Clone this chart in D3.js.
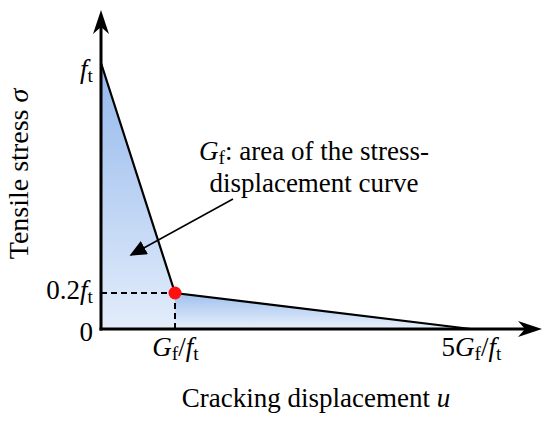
<!DOCTYPE html>
<html>
<head>
<meta charset="utf-8">
<script src="https://cdn.jsdelivr.net/npm/d3@7"></script>
<style>
  body { margin: 0; background: #fff; }
</style>
</head>
<body>
<div id="chart"></div>
<script>
// softening curve: displacement in units of Gf/ft, stress in units of ft
const displacement = [0, 1, 5];
const stress = [1, 0.2, 0];
const peakPoint = {u: 1, s: 0.2};

// tick labels (sub = subscript part)
const xTicks = [
  {v: 1, parts: [["G", "i"], ["f", "sub"], ["/", ""], ["f", "i"], ["t", "sub"]]},
  {v: 5, parts: [["5", ""], ["G", "i"], ["f", "sub"], ["/", ""], ["f", "i"], ["t", "sub"]]}
];
const yTicks = [
  {v: 0, parts: [["0", ""]]},
  {v: 0.2, parts: [["0.2", ""], ["f", "i"], ["t", "sub"]]},
  {v: 1, parts: [["f", "i"], ["t", "sub"]]}
];

const serif = '"Liberation Serif"';
const fs = 27;
const width = 550, height = 425;
const svg = d3.select("#chart").append("svg")
  .attr("width", width).attr("height", height);

// schematic: y is drawn piecewise (not to scale), x is linear
const xScale = d3.scaleLinear().domain([0, 5]).range([101, 471]);
const yScale = d3.scaleLinear().domain([0, 0.2, 1]).range([329, 293, 63]);

const defs = svg.append("defs");
function grad(id, top, bottom) {
  const g = defs.append("linearGradient").attr("id", id)
    .attr("x1", 0).attr("y1", 0).attr("x2", 0).attr("y2", 1);
  g.append("stop").attr("offset", "0%").attr("stop-color", top);
  g.append("stop").attr("offset", "100%").attr("stop-color", bottom);
}
grad("gLeft", "#94b8ec", "#e3edfb");
grad("gRight", "#9fc0ee", "#e8f0fb");

defs.append("marker").attr("id", "ann").attr("viewBox", "0 0 10 10")
  .attr("refX", 9).attr("refY", 5).attr("markerWidth", 17).attr("markerHeight", 15)
  .attr("markerUnits", "userSpaceOnUse").attr("orient", "auto")
  .attr("preserveAspectRatio", "none")
  .append("path").attr("d", "M0,0L10,5L0,10Z").attr("fill", "#000");

const pts = displacement.map((u, i) => ({u, s: stress[i]}));

// filled areas: left of Gf/ft and right of it
const area = d3.line().x(d => xScale(d.u)).y(d => yScale(d.s));
svg.append("path")
  .attr("d", area([{u: 0, s: 0}, pts[0], pts[1], {u: pts[1].u, s: 0}]) + "Z")
  .attr("fill", "url(#gLeft)");
svg.append("path")
  .attr("d", area([{u: pts[1].u, s: 0}, pts[1], pts[2]]) + "Z")
  .attr("fill", "url(#gRight)");

// dashed guide lines
svg.append("line")
  .attr("x1", xScale(0)).attr("x2", xScale(peakPoint.u))
  .attr("y1", yScale(peakPoint.s)).attr("y2", yScale(peakPoint.s))
  .attr("stroke", "#000").attr("stroke-width", 2).attr("stroke-dasharray", "6,4");
svg.append("line")
  .attr("x1", xScale(peakPoint.u)).attr("x2", xScale(peakPoint.u))
  .attr("y1", yScale(peakPoint.s)).attr("y2", yScale(0))
  .attr("stroke", "#000").attr("stroke-width", 2).attr("stroke-dasharray", "6,4");

// curve
svg.append("path").attr("d", area(pts))
  .attr("fill", "none").attr("stroke", "#000").attr("stroke-width", 2.2);

// axes with arrows
const x0 = xScale(0), y0 = yScale(0);
const yTop = 10, xRight = 542;
svg.append("line").attr("x1", x0).attr("y1", y0 + 1.5).attr("x2", x0).attr("y2", yTop + 12)
  .attr("stroke", "#000").attr("stroke-width", 3);
svg.append("line").attr("x1", x0 - 1.5).attr("y1", y0).attr("x2", xRight - 12).attr("y2", y0)
  .attr("stroke", "#000").attr("stroke-width", 3);
svg.append("path")
  .attr("d", `M${x0},${yTop}L${x0 + 8},${yTop + 24}L${x0},${yTop + 17}L${x0 - 8},${yTop + 24}Z`)
  .attr("fill", "#000");
svg.append("path")
  .attr("d", `M${xRight},${y0}L${xRight - 24},${y0 - 8}L${xRight - 17},${y0}L${xRight - 24},${y0 + 8}Z`)
  .attr("fill", "#000");

// tick labels via d3 axes
function fillParts(textSel, parts) {
  textSel.text(null);
  parts.forEach(([t, kind]) => {
    const ts = textSel.append("tspan").text(t);
    if (kind === "i") ts.attr("font-style", "italic");
    if (kind === "sub") ts.attr("font-size", "0.72em").attr("baseline-shift", "-22%");
  });
}

const xAxis = svg.append("g")
  .attr("transform", `translate(0,${y0})`)
  .call(d3.axisBottom(xScale).tickValues(xTicks.map(d => d.v)).tickSize(0).tickPadding(0));
xAxis.select(".domain").remove();
xAxis.selectAll(".tick text")
  .attr("font-size", fs).attr("fill", "#000")
  .attr("y", 27).attr("dy", 0)
  .each(function (d) { fillParts(d3.select(this), xTicks.find(t => t.v === d).parts); });

// label baselines sit a little below their tick in the original
const yLabelShift = {0: 11, 0.2: 5, 1: 14};
const yAxis = svg.append("g")
  .attr("transform", `translate(${x0},0)`)
  .call(d3.axisLeft(yScale).tickValues(yTicks.map(d => d.v)).tickSize(0).tickPadding(8));
yAxis.select(".domain").remove();
yAxis.selectAll(".tick text")
  .attr("font-size", fs).attr("fill", "#000")
  .attr("dy", d => yLabelShift[d])
  .each(function (d) { fillParts(d3.select(this), yTicks.find(t => t.v === d).parts); });

// peak marker
svg.append("circle")
  .attr("cx", xScale(peakPoint.u)).attr("cy", yScale(peakPoint.s)).attr("r", 6.5)
  .attr("fill", "#ff1010");

// axis titles
const xt = svg.append("text").attr("x", 316).attr("y", 407).attr("text-anchor", "middle")
  .attr("font-size", fs);
xt.append("tspan").text("Cracking displacement ");
xt.append("tspan").text("u").attr("font-style", "italic");

const yt = svg.append("text").attr("transform", "translate(28,174) rotate(-90)")
  .attr("text-anchor", "middle").attr("font-size", 28);
yt.append("tspan").text("Tensile stress ");
yt.append("tspan").text("σ").attr("font-style", "italic");

// annotation
const a1 = svg.append("text").attr("x", 314).attr("y", 160).attr("font-size", fs)
  .attr("text-anchor", "middle");
fillParts(a1, [["G", "i"], ["f", "sub"], [": area of the stress-", ""]]);
svg.append("text").attr("x", 314).attr("y", 192).attr("font-size", fs)
  .attr("text-anchor", "middle").text("displacement curve");
svg.append("line").attr("x1", 233).attr("y1", 199).attr("x2", 131).attr("y2", 255)
  .attr("stroke", "#000").attr("stroke-width", 1.5).attr("marker-end", "url(#ann)");

// all text in Times-like serif
svg.selectAll("text").style("font-family", serif);
</script>
</body>
</html>
